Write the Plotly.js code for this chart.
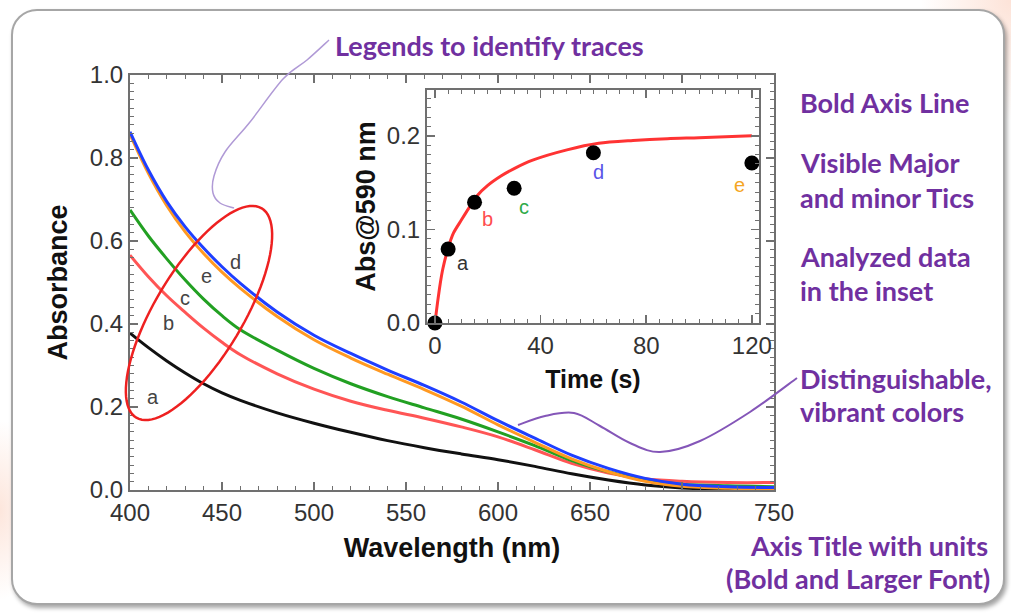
<!DOCTYPE html>
<html>
<head>
<meta charset="utf-8">
<script src="https://cdn.plot.ly/plotly-3.0.1.min.js"></script>
<style>
  html, body { margin:0; padding:0; width:1011px; height:614px; overflow:hidden;
    background: radial-gradient(ellipse 90px 120px at 1011px 0px, #fde3d8 0%, rgba(253,227,216,0) 100%),
                radial-gradient(ellipse 40px 90px at 0px 510px, #fde6dc 0%, rgba(253,230,220,0) 100%), #ffffff; }
  #frame { position:absolute; left:11px; top:9px; width:990px; height:592px;
    border:2px solid #a6a6a6; border-radius:26px; background:#ffffff;
    box-shadow: 2px 3px 4px rgba(0,0,0,0.35); }
  #chart { position:absolute; left:0; top:0; width:1011px; height:614px; }
</style>
</head>
<body>
<div id="frame"></div>
<div id="chart"></div>
<script>
// ---------- data ----------
const wavelength = [400,410,420,430,440,450,460,480,500,520,540,560,580,600,620,640,660,680,700,725,750];
const absA = [0.378,0.343,0.311,0.282,0.256,0.234,0.216,0.186,0.161,0.139,0.119,0.102,0.087,0.073,0.057,0.039,0.024,0.012,0.005,0.001,0.000];
const absB = [0.566,0.514,0.468,0.428,0.390,0.356,0.326,0.280,0.243,0.214,0.192,0.173,0.152,0.128,0.097,0.064,0.041,0.027,0.021,0.018,0.018];
const absC = [0.675,0.612,0.557,0.506,0.460,0.420,0.386,0.337,0.293,0.256,0.225,0.198,0.171,0.140,0.107,0.071,0.044,0.024,0.014,0.010,0.008];
const absD = [0.863,0.771,0.695,0.634,0.583,0.538,0.498,0.429,0.373,0.329,0.289,0.252,0.212,0.167,0.125,0.084,0.052,0.028,0.014,0.008,0.006];
const absE = [0.857,0.763,0.685,0.622,0.570,0.525,0.486,0.418,0.362,0.318,0.279,0.242,0.202,0.157,0.115,0.075,0.044,0.021,0.009,0.004,0.003];

const traceLabels = ['a','b','c','d','e'];
const timeS = [0,5,15,30,60,120];
const abs590 = [0.000,0.079,0.129,0.144,0.182,0.171];
const fitTime = [0,1,2,3,5,7,10,12,16,20,25,30,37,50,62,75,88,100,120];
const fitAbs  = [0,0.022,0.042,0.058,0.080,0.096,0.110,0.119,0.136,0.147,0.157,0.165,0.174,0.185,0.192,0.195,0.197,0.198,0.200];

const xTicks = [400,450,500,550,600,650,700,750];
const yTicks = [0.0,0.2,0.4,0.6,0.8,1.0];
const insetXTicks = [0,40,80,120];
const insetYTicks = [0.0,0.1,0.2];

// ---------- styling ----------
const colA='#111111', colB='#ff5555', colC='#22a022', colD='#1f3fff', colE='#ff9922';
const labelColors = ['#333333','#ff4d4d','#2eaa4a','#5a55e8','#f5a623'];
const FONT = 'Liberation Sans, Arial, Helvetica, sans-serif';
const CALLOUT = 'Lato, Noto Sans, sans-serif';
const PURPLE = '#7030a0';

// pixel geometry of main plot area
const L=130, R=774, T=75, B=490, W=1011, H=614;
const X = px => (px-L)/(R-L);
const Y = py => (B-py)/(B-T);

function smoothPath(pts){
  let d = 'M '+X(pts[0][0])+','+Y(pts[0][1]);
  for(let i=0;i<pts.length-1;i++){
    const p0=pts[Math.max(i-1,0)], p1=pts[i], p2=pts[i+1], p3=pts[Math.min(i+2,pts.length-1)];
    const c1=[p1[0]+(p2[0]-p0[0])/6, p1[1]+(p2[1]-p0[1])/6];
    const c2=[p2[0]-(p3[0]-p1[0])/6, p2[1]-(p3[1]-p1[1])/6];
    d += ' C '+X(c1[0])+','+Y(c1[1])+' '+X(c2[0])+','+Y(c2[1])+' '+X(p2[0])+','+Y(p2[1]);
  }
  return d;
}
function ellipsePath(cx,cy,a,b,deg){
  const t0=deg*Math.PI/180, ux=Math.cos(t0), uy=-Math.sin(t0), vx=Math.sin(t0), vy=Math.cos(t0);
  let d='';
  for(let k=0;k<=96;k++){
    const t=2*Math.PI*k/96;
    const px=cx+a*Math.cos(t)*ux+b*Math.sin(t)*vx, py=cy+a*Math.cos(t)*uy+b*Math.sin(t)*vy;
    d += (k===0?'M ':' L ')+X(px)+','+Y(py);
  }
  return d+' Z';
}

const callout1 = [[329,40],[307,60],[283,79],[250,122],[225,152],[214,176],[213,193],[220,203],[234,208]];
const callout2 = [[518,425],[545,416],[574,413],[600,426],[630,443],[660,452],[700,441],[750,412],[797,378]];

const specLine = (y,c,n)=>({x:wavelength,y:y,type:'scatter',mode:'lines',name:n,
  line:{color:c,width:3,shape:'spline',smoothing:1},xaxis:'x',yaxis:'y',hoverinfo:'x+y+name'});

const data = [
  specLine(absA,colA,'a'), specLine(absB,colB,'b'), specLine(absC,colC,'c'),
  specLine(absE,colE,'e'), specLine(absD,colD,'d'),
  {x:fitTime,y:fitAbs,type:'scatter',mode:'lines',name:'fit',xaxis:'x2',yaxis:'y2',
   line:{color:'#ff3333',width:3,shape:'spline',smoothing:0.8},cliponaxis:false},
  {x:timeS,y:abs590,type:'scatter',mode:'markers',name:'Abs@590 nm',xaxis:'x2',yaxis:'y2',
   marker:{color:'#000',size:15},cliponaxis:false}
];

const axBase = {
  showline:true, linecolor:'#707070', linewidth:2, mirror:'ticks',
  ticks:'inside', ticklen:8, tickwidth:1.5, tickcolor:'#707070',
  showgrid:false, zeroline:false,
  tickfont:{family:FONT,size:24,color:'#333'}
};

const annotations = [];
// trace labels in main plot
const mainLab = [[412.5,0.224],[421,0.402],[430,0.463],[457.6,0.549],[441.8,0.516]];
traceLabels.forEach((t,i)=>annotations.push({xref:'x',yref:'y',x:mainLab[i][0],y:mainLab[i][1],
  text:t,showarrow:false,font:{family:FONT,size:20,color:'#444'}}));
// inset labels
const insetShift = [[15,-14],[13,-17],[10,-19],[5,-19],[-12,-22]];
traceLabels.forEach((t,i)=>annotations.push({xref:'x2',yref:'y2',x:timeS[i+1],y:abs590[i+1],
  xshift:insetShift[i][0],yshift:insetShift[i][1],text:t,showarrow:false,
  font:{family:FONT,size:20,color:labelColors[i]}}));
// callout texts
const callTxt = [
  ['Legends to identify traces',333,45,'left'],
  ['Bold Axis Line',798,103,'left'],
  ['Visible Major',798,162,'left'],
  ['and minor Tics',798,197,'left'],
  ['Analyzed data',798,256,'left'],
  ['in the inset',798,290,'left'],
  ['Distinguishable,',798,378,'left'],
  ['vibrant colors',798,411,'left'],
  ['Axis Title with units',990,545,'right'],
  ['(Bold and Larger Font)',992,578,'right']
];
callTxt.forEach(c=>annotations.push({xref:'paper',yref:'paper',x:X(c[1]),y:Y(c[2]),
  xanchor:c[3],yanchor:'middle',text:c[0],showarrow:false,
  font:{family:CALLOUT,size:27,color:PURPLE,weight:'bold'}}));

const layout = {
  width:W, height:H,
  margin:{l:L,r:W-R,t:T,b:H-B,pad:0},
  paper_bgcolor:'rgba(0,0,0,0)', plot_bgcolor:'rgba(0,0,0,0)',
  showlegend:false,
  xaxis: Object.assign({}, axBase, {domain:[0,1], anchor:'y', range:[400,750],
    tickvals:xTicks, minor:{dtick:10,tick0:400,ticks:'inside',ticklen:4,tickcolor:'#707070',tickwidth:1},
    title:{text:'Wavelength (nm)',standoff:13,font:{family:FONT,size:27,color:'#111',weight:'bold'}}}),
  yaxis: Object.assign({}, axBase, {domain:[0,1], anchor:'x', range:[0,1.0],
    tickvals:yTicks, tickformat:'.1f',
    minor:{dtick:0.02,tick0:0,ticks:'inside',ticklen:4,tickcolor:'#707070',tickwidth:1},
    title:{text:'Absorbance',standoff:14,font:{family:FONT,size:27,color:'#111',weight:'bold'}}}),
  xaxis2: Object.assign({}, axBase, {domain:[X(427),X(759)], anchor:'y2', range:[-3,122.7],
    tickvals:insetXTicks, minor:{dtick:5,tick0:0,ticks:'inside',ticklen:4,tickcolor:'#707070',tickwidth:1},
    title:{text:'Time (s)',standoff:13,font:{family:FONT,size:25,color:'#111',weight:'bold'}}}),
  yaxis2: Object.assign({}, axBase, {domain:[Y(323),Y(90)], anchor:'x2', range:[0,0.249],
    tickvals:insetYTicks, tickformat:'.1f',
    minor:{dtick:0.01,tick0:0,ticks:'inside',ticklen:4,tickcolor:'#707070',tickwidth:1},
    title:{text:'Abs@590 nm',standoff:3,font:{family:FONT,size:27,color:'#111',weight:'bold'}}}),
  shapes:[
    {type:'path',xref:'paper',yref:'paper',path:ellipsePath(199,313,122,44,59.1),
     line:{color:'#ee2020',width:2.5}},
    {type:'path',xref:'paper',yref:'paper',path:smoothPath(callout1),line:{color:'#b09ad6',width:1.5}},
    {type:'path',xref:'paper',yref:'paper',path:smoothPath(callout2),line:{color:'#8456b8',width:2}}
  ],
  annotations:annotations
};

Plotly.newPlot('chart', data, layout, {displayModeBar:false, staticPlot:true});
</script>
</body>
</html>
